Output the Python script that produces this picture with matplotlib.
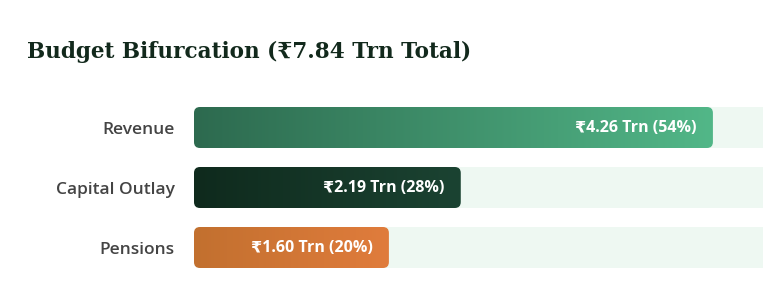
import numpy as np
import matplotlib
matplotlib.use('Agg')
import matplotlib.pyplot as plt
from matplotlib.patches import FancyBboxPatch
from matplotlib.colors import LinearSegmentedColormap

# --- data ---
categories = ['Revenue', 'Capital Outlay', 'Pensions']
amounts_trn = [4.26, 2.19, 1.60]
shares_pct = [54, 28, 20]
total_trn = 7.84
gradients = [('#2d6a4f', '#52b788'), ('#0f2a1d', '#1b4332'), ('#c2702f', '#e07c3c')]
track_color = '#eef8f2'

W, H, DPI = 763, 297, 100
fig = plt.figure(figsize=(W / DPI, H / DPI), dpi=DPI)

# axes geometry in pixels
ax_left, ax_right = 194, 763
px_per_pct = 9.55
row_px = 60
ax_top = 97.5
ax = fig.add_axes([ax_left / W, (H - ax_top - 3 * row_px) / H,
                   (ax_right - ax_left) / W, 3 * row_px / H])
for s in ax.spines.values():
    s.set_visible(False)
ax.set_xticks([])

bar_h = 41 / row_px
radius_x = 6 / px_per_pct
aspect = (6 / row_px) / radius_x


def rounded(x0, y0, w, h, **kw):
    return FancyBboxPatch((x0, y0), w, h,
                          boxstyle=f'round,pad=0,rounding_size={radius_x}',
                          mutation_aspect=aspect, **kw)


grad = np.linspace(0, 1, 256).reshape(1, -1)
for i, (cat, amt, pct) in enumerate(zip(categories, amounts_trn, shares_pct)):
    y0 = i - bar_h / 2
    track = rounded(0, y0, 100, bar_h, facecolor=track_color, edgecolor='none',
                    clip_on=True, zorder=1)
    ax.add_patch(track)
    w = amt / total_trn * 100
    clip = rounded(0, y0, w, bar_h, facecolor='none', edgecolor='none', zorder=2)
    ax.add_patch(clip)
    cmap = LinearSegmentedColormap.from_list(cat, gradients[i])
    im = ax.imshow(grad, cmap=cmap, extent=[0, w, y0 + bar_h, y0], aspect='auto',
                   interpolation='bilinear', zorder=2)
    im.set_clip_path(clip)
    ax.annotate(f'\u20b9{amt:.2f} Trn ({pct}%)', xy=(w, i), xytext=(-16, 0),
                textcoords='offset pixels', ha='right', va='center',
                color='white', fontsize=11.5, fontweight='bold',
                family=['Open Sans', 'DejaVu Sans'], zorder=3)

ax.set_xlim(0, (ax_right - ax_left) / px_per_pct)
ax.set_ylim(2.5, -0.5)
ax.set_yticks(range(len(categories)))
ax.set_yticklabels(categories, fontsize=12.5, fontweight='semibold',
                   color='#444444', family=['Open Sans', 'DejaVu Sans'])
ax.tick_params(axis='y', length=0, pad=13.7)

fig.text(27 / W, (H - 58) / H, f'Budget Bifurcation (\u20b9{total_trn:.2f} Trn Total)',
         ha='left', va='baseline', fontsize=15.5, fontweight='bold', color='#12291c',
         family=['DejaVu Serif', 'DejaVu Sans'])

fig.savefig('out.png', dpi=DPI, facecolor='white')
